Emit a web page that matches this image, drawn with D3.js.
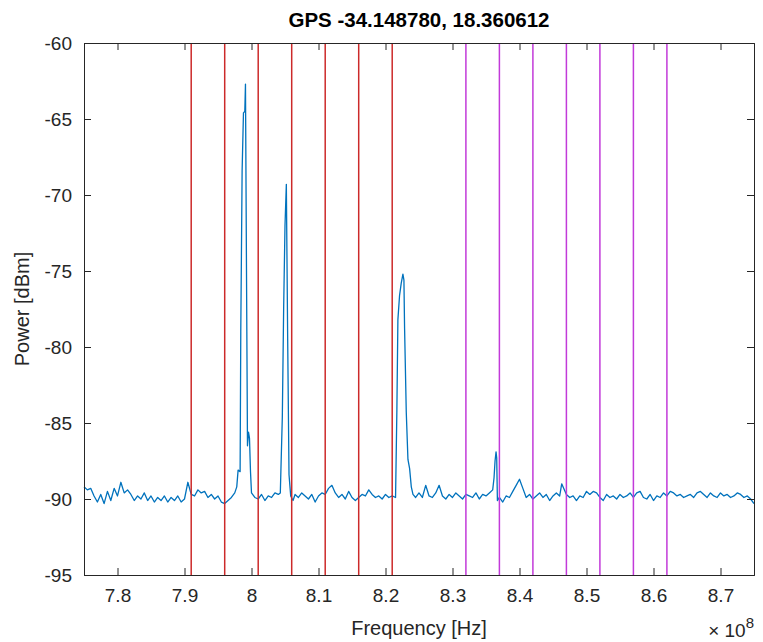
<!DOCTYPE html>
<html>
<head>
<meta charset="utf-8">
<script src="https://cdn.jsdelivr.net/npm/d3@7.9.0/dist/d3.min.js"></script>
<style>
  body { margin: 0; background: #fff; }
  svg { font-family: "Liberation Sans", Arial, sans-serif; }
</style>
</head>
<body>
<svg width="763" height="642"></svg>
<script>
// spectrum, frequency in MHz, power in dBm
const freqMHz = [
  775, 775.5, 776, 776.5, 777, 777.5, 778, 778.5, 779, 779.5,
  780, 780.5, 781, 781.5, 782, 782.5, 783, 783.5, 784, 784.5,
  785, 785.5, 786, 786.5, 787, 787.5, 788, 788.5, 789, 789.5,
  790, 790.5, 791, 791.5, 792, 792.5, 793, 793.5, 794, 794.5,
  795, 795.5, 796, 796.5, 797, 797.5,
  // peak 1
  797.8, 798, 798.3, 798.4, 798.6, 798.8, 799, 799.1, 799.25, 799.4,
  799.55, 799.7, 799.85, 800,
  800.5, 801, 801.5, 802, 802.5, 803, 803.5, 804, 804.3,
  // peak 2
  804.6, 804.8, 805, 805.2, 805.4, 805.6, 805.85,
  806.2, 806.5, 807, 807.5, 808, 808.5, 809, 809.5, 810, 810.5,
  811, 811.5, 812, 812.5, 813, 813.5, 814, 814.5, 815, 815.5,
  816, 816.5, 817, 817.5, 818, 818.5, 819, 819.5, 820, 820.5,
  821, 821.5,
  // peak 3
  821.7, 821.85, 822.1, 822.35, 822.6, 822.75, 822.85, 823.1, 823.35, 823.6,
  823.85, 824.1,
  824.5, 825, 825.5, 826, 826.5, 827, 827.5, 828, 828.5, 829,
  829.5, 830, 830.5, 831, 831.5, 832, 832.5, 833, 833.5, 834,
  834.5, 835, 835.5, 836,
  // small peak
  836.2, 836.35, 836.5, 836.6, 836.7,
  837, 837.5, 838, 838.5, 839, 839.5, 840, 840.5, 841, 841.5,
  842, 842.5, 843, 843.5, 844, 844.5, 845, 845.5, 846, 846.3,
  847, 847.5, 848, 848.5, 849, 849.5, 850, 850.5, 851, 851.5,
  852, 852.5, 853, 853.5, 854, 854.5, 855, 855.5, 856, 856.5,
  857, 857.5, 858, 858.5, 859, 859.5, 860, 860.5, 861, 861.5,
  862, 862.5, 863, 863.5, 864, 864.5, 865, 865.5, 866, 866.5,
  867, 867.5, 868, 868.5, 869, 869.5, 870, 870.5, 871, 871.5,
  872, 872.5, 873, 873.5, 874, 874.5, 875
];
const powerDbm = [
  -89.2, -89.4, -89.3, -89.8, -90.2, -89.7, -90.3, -89.5, -90.1, -89.3,
  -89.8, -88.9, -89.6, -89.4, -89.7, -90.1, -89.8, -90.0, -89.6, -90.1,
  -89.8, -90.2, -89.9, -90.1, -89.8, -90.2, -89.9, -90.1, -89.8, -90.2,
  -90.0, -88.9, -89.7, -89.8, -89.4, -89.6, -89.5, -89.9, -89.7, -90.0,
  -89.8, -90.2, -90.3, -90.1, -89.9, -89.6,
  -89.2, -88.1, -88.2, -79.0, -68.4, -64.6, -64.5, -62.7, -74.8, -86.5,
  -85.6, -86.0, -88.2, -89.6,
  -89.9, -90.0, -89.7, -90.1, -89.8, -89.9, -89.6, -89.7, -89.6,
  -84.6, -77.4, -72.0, -69.3, -79.5, -88.4, -89.8,
  -90.1, -89.7, -89.9, -89.6, -89.8, -90.0, -89.7, -90.2, -89.8, -89.6,
  -89.7, -89.3, -89.1, -89.6, -89.9, -89.7, -90.0, -89.5, -89.9, -90.1,
  -89.9, -89.7, -89.8, -89.4, -89.7, -89.9, -89.8, -90.0, -89.7, -89.9,
  -89.8, -89.9,
  -84.1, -78.2, -76.6, -75.8, -75.2, -75.6, -78.8, -84.3, -87.4, -88.0,
  -89.2, -89.7,
  -89.9, -89.6, -89.9, -89.1, -89.8, -89.9, -89.6, -89.1, -89.8, -90.0,
  -89.7, -89.9, -89.6, -89.8, -90.0, -89.7, -89.8, -89.9, -89.6, -90.0,
  -89.7, -89.8, -89.6, -89.4,
  -88.6, -87.5, -86.9, -87.3, -90.1,
  -89.9, -90.2, -89.8, -89.9, -89.5, -89.1, -88.7, -89.3, -89.9, -89.7,
  -90.0, -89.8, -89.6, -89.9, -89.7, -90.1, -89.8, -89.6, -89.8, -89.0,
  -89.7, -89.9, -89.8, -90.1, -89.8, -89.9, -89.5, -89.7, -89.5, -89.6,
  -89.9, -90.1, -89.7, -89.9, -89.8, -90.0, -89.7, -89.9, -89.8, -89.6,
  -89.9, -89.6, -89.5, -89.9, -90.0, -89.7, -90.1, -89.8, -89.9, -89.6,
  -89.8, -89.5, -89.6, -89.8, -89.7, -89.9, -89.8, -89.7, -89.9, -89.6,
  -89.5, -89.7, -89.9, -89.6, -89.8, -89.9, -89.6, -89.8, -89.7, -89.9,
  -89.8, -89.6, -89.7, -89.9, -89.8, -90.0, -90.3
];
const redLinesMHz = [791, 796, 801, 806, 811, 816, 821];
const magentaLinesMHz = [832, 837, 842, 847, 852, 857, 862];
const xTicks = [780, 790, 800, 810, 820, 830, 840, 850, 860, 870];
const yTicks = [-60, -65, -70, -75, -80, -85, -90, -95];

const margin = { top: 43, right: 9, bottom: 67, left: 84 };
const width = 763, height = 642;
const svg = d3.select("svg");
const axisColor = "#262626";

const x = d3.scaleLinear().domain([775, 875]).range([margin.left, width - margin.right]);
const y = d3.scaleLinear().domain([-95, -60]).range([height - margin.bottom, margin.top]);

const data = freqMHz.map((f, i) => ({ f: f, p: powerDbm[i] }));

const line = d3.line()
  .x((d) => x(d.f))
  .y((d) => y(d.p));

svg.append("path")
  .datum(data)
  .attr("fill", "none")
  .attr("stroke", "#0072BD")
  .attr("stroke-width", 1.3)
  .attr("stroke-linejoin", "round")
  .attr("d", line);

// band markers
const drawMarkers = (vals, color) => {
  svg.append("g")
    .selectAll("line")
    .data(vals)
    .join("line")
    .attr("x1", (d) => x(d))
    .attr("x2", (d) => x(d))
    .attr("y1", y(-60))
    .attr("y2", y(-95))
    .attr("stroke", color)
    .attr("stroke-width", 1.5);
};
drawMarkers(redLinesMHz, "#cc2a2a");
drawMarkers(magentaLinesMHz, "#c23ad9");

// axes, ticks pointing inward on all four sides
const fmtX = (d) => String(+(d / 100).toFixed(2));
const gx = svg.append("g")
  .attr("transform", `translate(0,${y(-95)})`)
  .call(d3.axisBottom(x).tickValues(xTicks).tickSize(-7).tickPadding(14).tickFormat(fmtX));
const gy = svg.append("g")
  .attr("transform", `translate(${x(775)},0)`)
  .call(d3.axisLeft(y).tickValues(yTicks).tickSize(-7).tickPadding(12).tickFormat((d) => String(d)));
const gt = svg.append("g")
  .attr("transform", `translate(0,${y(-60)})`)
  .call(d3.axisTop(x).tickValues(xTicks).tickSize(-7).tickFormat(""));
const gr = svg.append("g")
  .attr("transform", `translate(${x(875)},0)`)
  .call(d3.axisRight(y).tickValues(yTicks).tickSize(-7).tickFormat(""));

[gx, gy, gt, gr].forEach((g) => {
  g.select(".domain").attr("stroke", axisColor).attr("stroke-width", 1);
  g.selectAll(".tick line").attr("stroke", axisColor);
  g.selectAll(".tick text")
    .attr("fill", axisColor)
    .style("font-size", "19px")
    .style("font-family", "'Liberation Sans', Arial, sans-serif");
});

// titles
svg.append("text")
  .attr("x", (x(775) + x(875)) / 2)
  .attr("y", 27)
  .attr("text-anchor", "middle")
  .attr("fill", "#000")
  .style("font-size", "20.5px")
  .style("font-weight", "bold")
  .text("GPS -34.148780, 18.360612");

svg.append("text")
  .attr("x", (x(775) + x(875)) / 2)
  .attr("y", 635)
  .attr("text-anchor", "middle")
  .attr("fill", axisColor)
  .style("font-size", "20px")
  .text("Frequency [Hz]");

svg.append("text")
  .attr("transform", `translate(29,${(y(-60) + y(-95)) / 2}) rotate(-90)`)
  .attr("text-anchor", "middle")
  .attr("fill", axisColor)
  .style("font-size", "20px")
  .text("Power [dBm]");

const expo = svg.append("text")
  .attr("x", 754)
  .attr("y", 637)
  .attr("text-anchor", "end")
  .attr("fill", axisColor)
  .style("font-size", "19px");
expo.append("tspan").text("\u00d7 10");
expo.append("tspan").attr("dy", -9).style("font-size", "15px").text("8");
</script>
</body>
</html>
